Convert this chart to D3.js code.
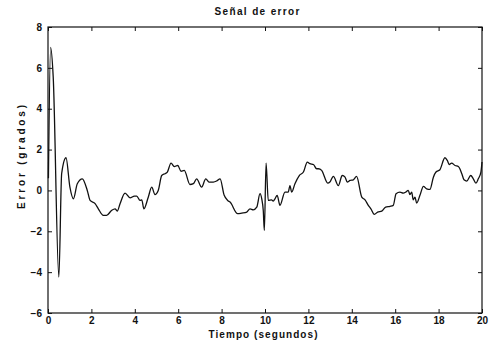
<!DOCTYPE html>
<html><head><meta charset="utf-8">
<script src="https://cdn.jsdelivr.net/npm/d3@7"></script>
<style>body{margin:0;background:#fff}svg{display:block}text{font-family:"Liberation Sans",Arial,sans-serif;font-weight:bold;fill:#111}</style>
</head><body>
<svg id="c" width="492" height="347"></svg>
<script>
const title = "Señal de error";
const xLabel = "Tiempo (segundos)";
const yLabel = "Error (grados)";
const xTicks = [0, 2, 4, 6, 8, 10, 12, 14, 16, 18, 20];
const yTicks = [-6, -4, -2, 0, 2, 4, 6, 8];
const time = [
 0.02, 0.12, 0.24, 0.5, 0.63, 0.83, 1.01, 1.17, 1.35, 1.58,
 1.81, 1.94, 2.17, 2.32, 2.55, 2.70, 2.93, 3.09, 3.19, 3.32,
 3.55, 3.78, 3.98, 4.09, 4.24, 4.32, 4.42, 4.62, 4.78, 4.93,
 5.08, 5.24, 5.39, 5.5, 5.67, 5.82, 5.98, 6.13, 6.28, 6.54,
 6.70, 6.85, 7.08, 7.27, 7.42, 7.62, 7.77, 7.93, 8.12, 8.28,
 8.39, 8.74, 8.93, 9.16, 9.31, 9.46, 9.62, 9.77, 9.85, 9.92,
 9.97, 10.05, 10.15, 10.30, 10.38, 10.46, 10.56, 10.69, 10.92, 11.07,
 11.15, 11.23, 11.38, 11.58, 11.77, 11.95, 12.07, 12.23, 12.38, 12.46,
 12.61, 12.89, 12.99, 13.15, 13.38, 13.56, 13.69, 13.79, 13.92, 14.07,
 14.22, 14.46, 14.61, 14.76, 14.88, 15.04, 15.19, 15.38, 15.56, 15.76,
 15.91, 16.04, 16.22, 16.37, 16.49, 16.60, 16.68, 16.76, 16.83, 16.91,
 16.99, 17.14, 17.30, 17.45, 17.60, 17.76, 17.88, 18.06, 18.29, 18.40,
 18.49, 18.60, 18.76, 18.91, 19.07, 19.17, 19.30, 19.48, 19.60, 19.72,
 19.83, 19.95, 20.0
];
const error = [
 0.6, 7.0, 5.55, -4.24, 0.83, 1.6, 0.16, -0.41, 0.33, 0.57,
 0, -0.49, -0.65, -0.9, -1.22, -1.22, -0.98, -0.9, -1.01, -0.65,
 -0.13, -0.36, -0.28, -0.28, -0.49, -0.46, -0.9, -0.33, 0.16, -0.2,
 0, 0.73, 0.82, 0.9, 1.34, 1.17, 1.22, 0.94, 0.98, 0.29,
 0.33, 0.57, 0.16, 0.57, 0.41, 0.41, 0.46, 0.57, -0.24, -0.49,
 -0.57, -1.14, -1.11, -1.06, -0.9, -0.95, -0.82, -0.16, -0.41, -0.98,
 -1.96, 1.34, -0.49, -0.46, -0.52, -0.41, -0.24, -0.73, -0.08, -0.08,
 0.24, -0.08, 0.33, 0.73, 0.9, 1.39, 1.31, 1.27, 1.06, 1.06,
 0.98, 0.36, 0.41, 0.69, 0.24, 0.73, 0.65, 0.41, 0.49, 0.52,
 0.69, -0.33, -0.46, -0.73, -0.9, -1.17, -1.06, -1.01, -0.82, -0.78,
 -0.73, -0.16, -0.08, -0.13, -0.08, 0, -0.2, -0.08, -0.46, -0.33,
 -0.62, -0.24, 0.2, 0.08, 0.05, 0.65, 0.9, 1.01, 1.6, 1.47,
 1.27, 1.34, 1.22, 1.17, 0.82, 0.52, 0.46, 0.73, 0.57, 0.36,
 0.57, 0.9, 1.39
];

const L = 48, R = 482, T = 27, B = 313;
const svg = d3.select("#c");
const x = d3.scaleLinear().domain([0, 20]).range([L, R]);
const y = d3.scaleLinear().domain([-6, 8]).range([B, T]);
const tk = 4;

svg.append("rect").attr("x", L).attr("y", T).attr("width", R - L).attr("height", B - T)
  .attr("fill", "none").attr("stroke", "#111").attr("stroke-width", 1.2);

const ax = [
  [d3.axisBottom(x).tickValues(xTicks).tickSize(-tk).tickPadding(4), `translate(0,${B})`, true],
  [d3.axisTop(x).tickValues(xTicks).tickSize(-tk), `translate(0,${T})`, false],
  [d3.axisLeft(y).tickValues(yTicks).tickSize(-tk).tickPadding(6), `translate(${L},0)`, true],
  [d3.axisRight(y).tickValues(yTicks).tickSize(-tk), `translate(${R},0)`, false]
];
ax.forEach(([a, tr, lab]) => {
  const g = svg.append("g").attr("transform", tr).call(a);
  g.select(".domain").remove();
  g.selectAll(".tick line").attr("stroke", "#111").attr("stroke-width", 1);
  if (!lab) g.selectAll(".tick text").remove();
  else g.selectAll(".tick text").attr("font-size", 10).attr("font-family", "Liberation Sans, Arial, sans-serif").attr("font-weight", "bold").attr("fill", "#111");
});

const line = d3.line().x((d, i) => x(time[i])).y(d => y(d)).curve(d3.curveMonotoneX);
svg.append("path").datum(error).attr("d", line).attr("fill", "none")
  .attr("stroke", "#111").attr("stroke-width", 1.3).attr("stroke-linejoin", "round");

svg.append("text").attr("x", 257).attr("y", 15).attr("text-anchor", "middle")
  .attr("font-size", 10).attr("textLength", 85).attr("lengthAdjust", "spacing").text(title);
svg.append("text").attr("x", 263).attr("y", 338).attr("text-anchor", "middle")
  .attr("font-size", 10).attr("textLength", 109).attr("lengthAdjust", "spacing").text(xLabel);
svg.append("text").attr("transform", "translate(25,157) rotate(-90)").attr("text-anchor", "middle")
  .attr("font-size", 10).attr("textLength", 104).attr("lengthAdjust", "spacing").text(yLabel);
</script>
</body></html>
